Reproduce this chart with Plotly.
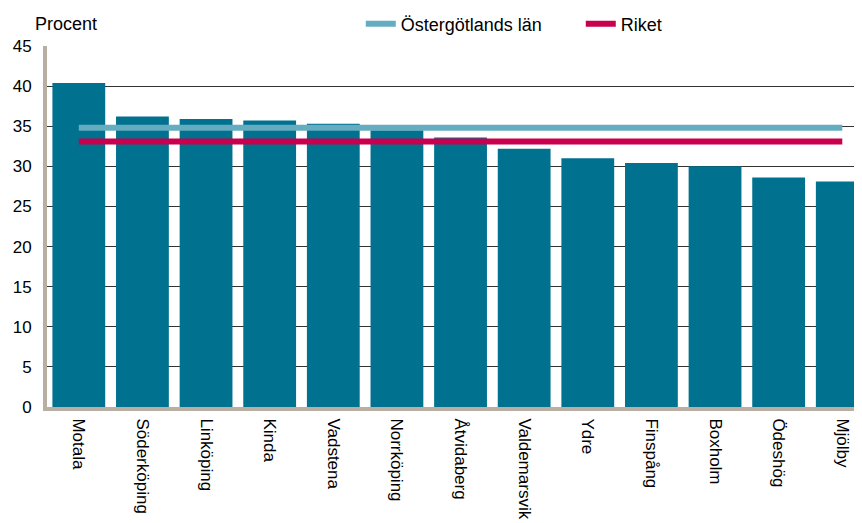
import plotly.graph_objects as go

kommuner = ["Motala", "Söderköping", "Linköping", "Kinda", "Vadstena", "Norrköping",
            "Åtvidaberg", "Valdemarsvik", "Ydre", "Finspång", "Boxholm", "Ödeshög", "Mjölby"]
andel = [40.4, 36.2, 35.9, 35.7, 35.3, 34.5, 33.6, 32.2, 31.0, 30.4, 30.0, 28.6, 28.1]
lan_varde = 34.8
riket_varde = 33.1

BAR_COLOR = "#00718F"
LAN_COLOR = "#64ADC1"
RIKET_COLOR = "#C8004E"
AXIS_COLOR = "#B8AFA2"

fig = go.Figure()

fig.add_trace(go.Bar(
    x=kommuner, y=andel,
    marker=dict(color=BAR_COLOR, line=dict(width=0)),
    showlegend=False,
))

fig.add_trace(go.Scatter(
    x=kommuner, y=[lan_varde] * len(kommuner),
    mode="lines", name="Östergötlands län",
    line=dict(color=LAN_COLOR, width=6),
))
fig.add_trace(go.Scatter(
    x=kommuner, y=[riket_varde] * len(kommuner),
    mode="lines", name="Riket",
    line=dict(color=RIKET_COLOR, width=6),
))

fig.add_annotation(
    text="Procent", xref="paper", yref="paper",
    x=-0.017, y=1.061, xanchor="left", yanchor="middle",
    showarrow=False, font=dict(size=18, color="#000"),
)

# the page body adds an 8px offset, so margins are trimmed to match
fig.update_layout(
    width=854, height=515,
    margin=dict(l=39, r=0, t=38, b=116),
    paper_bgcolor="white", plot_bgcolor="white",
    font=dict(family="Liberation Sans, Arial", size=17, color="#000"),
    bargap=0.17,
    legend=dict(
        orientation="h", x=0.385, xanchor="left",
        yref="container", y=0.969, yanchor="middle",
        font=dict(size=18), bgcolor="rgba(0,0,0,0)", entrywidth=175,
    ),
    xaxis=dict(
        range=[-0.5, 12.31], tickangle=90, automargin=False,
        showline=True, linecolor=AXIS_COLOR, linewidth=4,
        ticks="", showgrid=False, tickfont=dict(size=17),
        ticklabelstandoff=4,
    ),
    yaxis=dict(
        range=[0, 45], dtick=5, automargin=False,
        showline=True, linecolor=AXIS_COLOR, linewidth=4,
        showgrid=True, gridcolor="#333", gridwidth=1,
        zeroline=False, ticks="", ticklabelstandoff=8,
        tickfont=dict(size=17),
    ),
)

fig.write_html("out.html")
